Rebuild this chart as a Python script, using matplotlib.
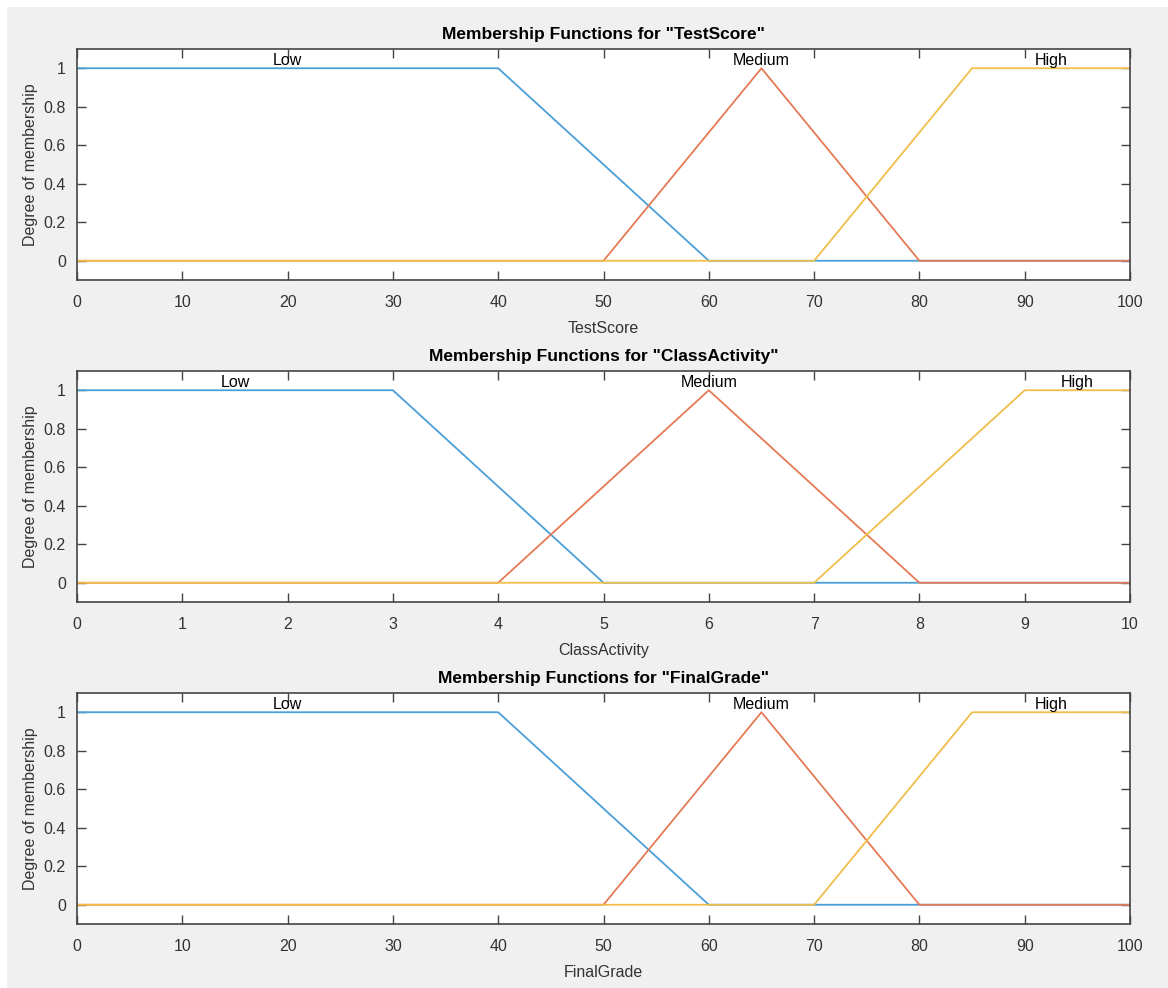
import matplotlib.pyplot as plt
from matplotlib.patches import Rectangle

plt.rcParams['font.family'] = ['Liberation Sans', 'DejaVu Sans']

# membership function breakpoints (x, y) per variable
score_low_x = [0, 40, 60, 100]
score_low_y = [1, 1, 0, 0]
score_med_x = [0, 50, 65, 80, 100]
score_med_y = [0, 0, 1, 0, 0]
score_high_x = [0, 70, 85, 100]
score_high_y = [0, 0, 1, 1]

act_low_x = [0, 3, 5, 10]
act_low_y = [1, 1, 0, 0]
act_med_x = [0, 4, 6, 8, 10]
act_med_y = [0, 0, 1, 0, 0]
act_high_x = [0, 7, 9, 10]
act_high_y = [0, 0, 1, 1]

grade_low_x = [0, 40, 60, 100]
grade_low_y = [1, 1, 0, 0]
grade_med_x = [0, 50, 65, 80, 100]
grade_med_y = [0, 0, 1, 0, 0]
grade_high_x = [0, 70, 85, 100]
grade_high_y = [0, 0, 1, 1]

mf_names = ['Low', 'Medium', 'High']
score_label_x = [20, 65, 92.5]
act_label_x = [1.5, 6, 9.5]
grade_label_x = [20, 65, 92.5]

variables = [
    ('TestScore', (0, 100), range(0, 101, 10),
     [(score_low_x, score_low_y), (score_med_x, score_med_y), (score_high_x, score_high_y)],
     score_label_x),
    ('ClassActivity', (0, 10), range(0, 11),
     [(act_low_x, act_low_y), (act_med_x, act_med_y), (act_high_x, act_high_y)],
     act_label_x),
    ('FinalGrade', (0, 100), range(0, 101, 10),
     [(grade_low_x, grade_low_y), (grade_med_x, grade_med_y), (grade_high_x, grade_high_y)],
     grade_label_x),
]

colors = ['#4a9fd8', '#e57a55', '#f0be4a']
axis_col = '#444444'

fig = plt.figure(figsize=(11.68, 9.88), dpi=100, facecolor='white')
fig.patches.append(Rectangle((7 / 1168, 0), 1, 1 - 7 / 988, transform=fig.transFigure,
                             facecolor='#f0f0f0', edgecolor='none', zorder=-10))

W, H = 1168, 988
tops = [49, 371, 693]
for (name, xlim, xticks, mfs, lab_x), top in zip(variables, tops):
    left, right, h = 77, 1130, 231
    ax = fig.add_axes([left / W, 1 - (top + h) / H, (right - left) / W, h / H])
    for (xs, ys), c in zip(mfs, colors):
        ax.plot(xs, ys, color=c, lw=1.3)
    for lx, nm in zip(lab_x, mf_names):
        ax.text(lx, 1.0, nm, ha='center', va='bottom', fontsize=11.5, color='black')
    ax.set_xlim(*xlim)
    ax.set_ylim(-0.1, 1.1)
    ax.set_xticks(list(xticks))
    ax.set_yticks([0, 0.2, 0.4, 0.6, 0.8, 1])
    ax.set_yticklabels(['0', '0.2', '0.4', '0.6', '0.8', '1'])
    ax.tick_params(direction='in', top=True, right=True, length=6.5, width=1,
                   color=axis_col, labelcolor='#333333', labelsize=11.5)
    ax.tick_params(axis='x', pad=11)
    ax.tick_params(axis='y', pad=8)
    for s in ax.spines.values():
        s.set_color(axis_col)
        s.set_linewidth(1.2)
    ax.set_xlabel(name, fontsize=11.5, color='#333333', labelpad=8)
    ax.set_ylabel('Degree of membership', fontsize=11.5, color='#333333', labelpad=4)
    ax.set_title('Membership Functions for "%s"' % name, fontsize=12.5, fontweight='bold', pad=7)

fig.savefig('out.png', dpi=100)
